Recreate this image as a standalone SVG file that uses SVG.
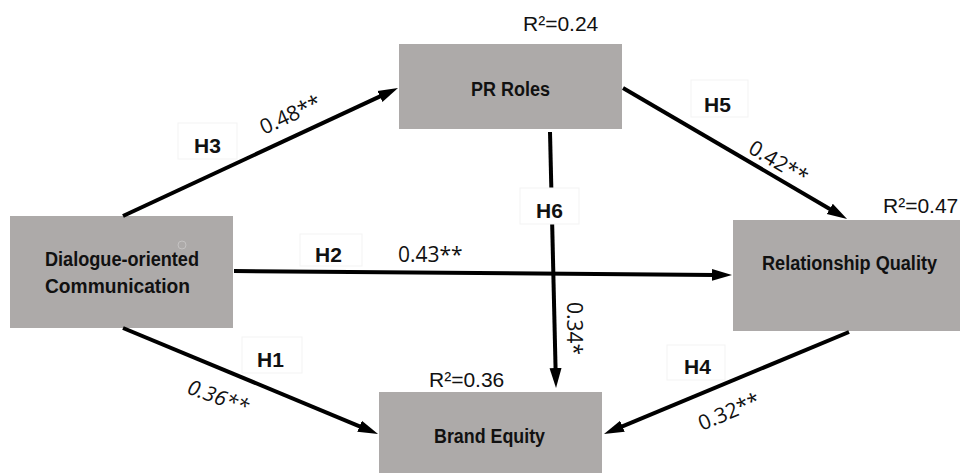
<svg xmlns="http://www.w3.org/2000/svg" width="960" height="473" viewBox="0 0 960 473">
<style>
.box{fill:#adaaa9}
.nl{font-family:"Liberation Sans",Arial,sans-serif;font-weight:bold;font-size:20px;fill:#111}
.h{font-family:"Liberation Sans",Arial,sans-serif;font-weight:bold;font-size:21px;fill:#111}
.n{font-family:"Open Sans","Liberation Sans",sans-serif;font-size:21px;fill:#111}
.r2{font-family:"Liberation Sans",Arial,sans-serif;font-size:21px;fill:#111}
.lb{fill:#fff;stroke:#f3f3f3;stroke-width:1}
.c{stroke:#000;stroke-width:4;fill:none;marker-end:url(#ah)}
</style>
<defs>
<marker id="ah" markerUnits="userSpaceOnUse" markerWidth="24" markerHeight="16" viewBox="0 -8 24 16" refX="2" refY="0" orient="auto">
<path d="M0,-6 L20,0 L0,6 Z" fill="#000"/>
</marker>
</defs>
<rect width="960" height="473" fill="#fff"/>

<g id="node-pr-roles">
<rect class="box" x="399" y="44" width="223" height="85"/>
<text class="nl" x="471" y="96" textLength="79" lengthAdjust="spacingAndGlyphs">PR Roles</text>
</g>
<g id="node-dialogue">
<rect class="box" x="10" y="216" width="223" height="112"/>
<circle cx="182" cy="245" r="4" fill="none" stroke="#c4c2c2" stroke-width="1"/>
<text class="nl" x="45" y="266" textLength="154" lengthAdjust="spacingAndGlyphs">Dialogue-oriented</text>
<text class="nl" x="45" y="293" textLength="145" lengthAdjust="spacingAndGlyphs">Communication</text>
</g>
<g id="node-relationship">
<rect class="box" x="733" y="220" width="227" height="111"/>
<text class="nl" x="762" y="270" textLength="175" lengthAdjust="spacingAndGlyphs">Relationship Quality</text>
</g>
<g id="node-brand">
<rect class="box" x="379" y="392" width="223" height="81"/>
<text class="nl" x="434" y="443" textLength="111" lengthAdjust="spacingAndGlyphs">Brand Equity</text>
</g>

<g id="connectors">
<line class="c" x1="123" y1="216" x2="381.7" y2="95.6"/>
<line class="c" x1="623" y1="88" x2="831.5" y2="209.9"/>
<line class="c" x1="550" y1="132" x2="555.6" y2="370"/>
<line class="c" x1="234" y1="271" x2="714" y2="274.9"/>
<line class="c" x1="123" y1="328" x2="361.4" y2="427.1"/>
<line class="c" x1="849" y1="332" x2="620.6" y2="427.1"/>
</g>

<g id="labels">
<rect class="lb" x="178" y="123" width="59" height="36"/>
<text class="h" x="194" y="153">H3</text>
<rect class="lb" x="691" y="80" width="57" height="37"/>
<text class="h" x="704" y="112">H5</text>
<rect class="lb" x="520" y="188" width="59" height="36"/>
<text class="h" x="536" y="218">H6</text>
<rect class="lb" x="300" y="234" width="62" height="32"/>
<text class="h" x="315" y="262">H2</text>
<rect class="lb" x="242" y="337" width="60" height="36"/>
<text class="h" x="257" y="367">H1</text>
<rect class="lb" x="667" y="345" width="58" height="35"/>
<text class="h" x="684" y="374">H4</text>

<text class="n" x="264" y="135" transform="rotate(-25 264 135)">0.48**</text>
<text class="n" x="747" y="152" transform="rotate(30.5 747 152)">0.42**</text>
<text class="n" x="398" y="262">0.43**</text>
<text class="n" x="567" y="302" transform="rotate(90 567 302)">0.34*</text>
<text class="n" x="186" y="393" font-style="italic" transform="rotate(20 186 393)">0.36**</text>
<text class="n" x="702" y="431" transform="rotate(-23 702 431)">0.32**</text>

<text class="r2" x="523" y="31">R²=0.24</text>
<text class="r2" x="883" y="213">R²=0.47</text>
<text class="r2" x="429" y="387">R²=0.36</text>
</g>
</svg>
